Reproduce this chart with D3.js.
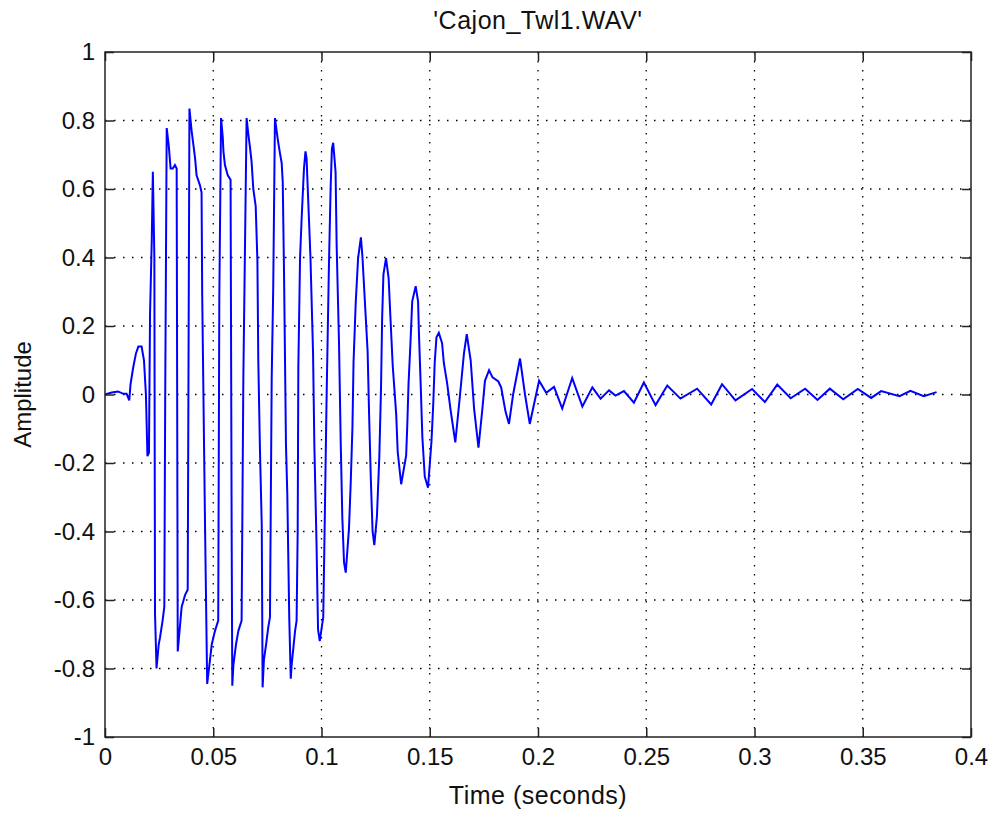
<!DOCTYPE html>
<html lang="en">
<head>
    <meta charset="UTF-8">
    <title>Cajon_Twl1.WAV waveform</title>
    <script src="https://d3js.org/d3.v7.min.js" charset="utf-8"></script>
    <style>
        body { margin: 0; background: #fff; }
        text { font-family: "Liberation Sans", Arial, Helvetica, sans-serif; fill: #111; }
    </style>
</head>
<body>
<script>

// data: time (s) and amplitude at peaks, troughs and shoulders
var timeSec = [
    0, 0.0031, 0.006, 0.0085, 0.010, 0.0112, 0.0118, 0.013, 0.0143, 0.0154,
    0.0169, 0.018, 0.0189, 0.0196, 0.0203, 0.0208, 0.0216, 0.0221, 0.0228, 0.0231,
    0.0238, 0.0248, 0.0254, 0.0266, 0.0274, 0.0278, 0.0285, 0.0294, 0.0303, 0.0313,
    0.0323, 0.0331, 0.0336, 0.0343, 0.0354, 0.0370, 0.0382, 0.0390, 0.0400, 0.0408,
    0.0416, 0.0423, 0.0439, 0.0446, 0.0449, 0.0462, 0.0472, 0.0485, 0.0493, 0.0508,
    0.0523, 0.0528, 0.0536, 0.0544, 0.0547, 0.0554, 0.0567, 0.0580, 0.0585, 0.0588,
    0.0593, 0.0605, 0.0616, 0.0631, 0.0639, 0.0654, 0.0662, 0.0670, 0.0677, 0.0685,
    0.0696, 0.0704, 0.0708, 0.0716, 0.0724, 0.0728, 0.0734, 0.0744, 0.0754, 0.0762,
    0.0770, 0.0777, 0.0785, 0.0798, 0.0808, 0.0816, 0.0821, 0.0827, 0.0836, 0.0842,
    0.0851, 0.0858, 0.0862, 0.0870, 0.0878, 0.0885, 0.0890, 0.0893, 0.0901, 0.0908,
    0.0919, 0.0926, 0.0931, 0.0949, 0.0961, 0.0967, 0.0977, 0.0984, 0.0992, 0.1008,
    0.1014, 0.1023, 0.1034, 0.1042, 0.1048, 0.1054, 0.1065, 0.1070, 0.1081, 0.1089,
    0.1096, 0.1104, 0.1112, 0.1127, 0.1135, 0.1143, 0.1148, 0.1158, 0.1169, 0.1182,
    0.1189, 0.1213, 0.1220, 0.1228, 0.1236, 0.1244, 0.1256, 0.1267, 0.1275, 0.1280,
    0.1286, 0.1298, 0.1310, 0.1318, 0.1329, 0.1345, 0.1352, 0.1368, 0.1391, 0.1396,
    0.1402, 0.1411, 0.1419, 0.1435, 0.1446, 0.1450, 0.1458, 0.1466, 0.1477, 0.1492,
    0.1508, 0.1516, 0.1523, 0.1531, 0.1542, 0.1557, 0.1565, 0.1580, 0.1596, 0.1618,
    0.1640, 0.1658, 0.1671, 0.1689, 0.1705, 0.1725, 0.1743, 0.1755, 0.1774, 0.1790,
    0.1817, 0.1830, 0.1850, 0.1866, 0.1885, 0.1917, 0.1940, 0.1962, 0.2005, 0.2038,
    0.2074, 0.2112, 0.2158, 0.2205, 0.2251, 0.2289, 0.2328, 0.2358, 0.2397, 0.2443,
    0.2489, 0.2543, 0.2597, 0.2658, 0.2735, 0.2800, 0.2850, 0.2912, 0.2989, 0.3048,
    0.3105, 0.3167, 0.3234, 0.3291, 0.3348, 0.3410, 0.3477, 0.3539, 0.3585, 0.3670,
    0.3720, 0.3782, 0.3841
];
var amplitude = [
    0, 0.006, 0.009, 0.002, 0.002, -0.017, 0.03, 0.078, 0.12, 0.14,
    0.14, 0.10, 0.0, -0.18, -0.17, 0.235, 0.45, 0.65, 0.40, -0.64,
    -0.80, -0.73, -0.71, -0.66, -0.62, -0.02, 0.778, 0.73, 0.66, 0.66,
    0.67, 0.66, -0.75, -0.70, -0.62, -0.585, -0.57, 0.835, 0.77, 0.73,
    0.69, 0.64, 0.61, 0.59, 0.29, -0.38, -0.845, -0.775, -0.73, -0.69,
    -0.66, 0.28, 0.807, 0.75, 0.71, 0.67, 0.64, 0.627, -0.40, -0.85,
    -0.79, -0.73, -0.69, -0.66, 0.046, 0.807, 0.76, 0.72, 0.68, 0.60,
    0.55, 0.39, 0.10, -0.17, -0.38, -0.855, -0.775, -0.73, -0.68, -0.65,
    0.05, 0.31, 0.807, 0.745, 0.705, 0.676, 0.62, 0.35, -0.15, -0.29,
    -0.65, -0.83, -0.79, -0.74, -0.69, -0.66, -0.40, 0.08, 0.40, 0.51,
    0.66, 0.71, 0.69, 0.40, 0.12, -0.15, -0.435, -0.686, -0.72, -0.65,
    -0.41, -0.03, 0.366, 0.60, 0.717, 0.735, 0.65, 0.435, 0.147, -0.147,
    -0.356, -0.49, -0.52, -0.39, -0.257, -0.094, 0.094, 0.267, 0.398, 0.459,
    0.403, 0.126, -0.063, -0.25, -0.40, -0.44, -0.356, -0.183, 0.021, 0.22,
    0.35, 0.398, 0.34, 0.23, 0.084, -0.058, -0.168, -0.262, -0.178, -0.094,
    0.031, 0.152, 0.272, 0.316, 0.272, 0.18, 0.031, -0.126, -0.24, -0.272,
    -0.136, -0.03, 0.094, 0.167, 0.18, 0.15, 0.092, 0.034, -0.044, -0.14,
    0.0, 0.12, 0.176, 0.10, -0.043, -0.155, -0.043, 0.04, 0.071, 0.05,
    0.038, 0.02, -0.05, -0.086, 0.0, 0.105, 0.0, -0.086, 0.04, 0.005,
    0.022, -0.041, 0.048, -0.035, 0.021, -0.012, 0.012, -0.003, 0.01, -0.024,
    0.035, -0.031, 0.026, -0.012, 0.017, -0.029, 0.030, -0.017, 0.016, -0.022,
    0.029, -0.011, 0.017, -0.016, 0.017, -0.014, 0.016, -0.010, 0.010, -0.005,
    0.011, -0.005, 0.007
];

var xTicks = [0, 0.05, 0.1, 0.15, 0.2, 0.25, 0.3, 0.35, 0.4];
var yTicks = [-1, -0.8, -0.6, -0.4, -0.2, 0, 0.2, 0.4, 0.6, 0.8, 1];

var titleText = "'Cajon_Twl1.WAV'";
var xLabel = "Time (seconds)";
var yLabel = "Amplitude";

// canvas and plot box
var width = 995,
    height = 813,
    margin = {top: 52, right: 24, bottom: 76, left: 105};

var x = d3.scaleLinear()
    .domain([0, 0.4])
    .range([margin.left, width - margin.right]);

var y = d3.scaleLinear()
    .domain([-1, 1])
    .range([height - margin.bottom, margin.top]);

var fmt = function(d) { return String(+d.toFixed(2)); };

var svg = d3.select("body").append("svg")
    .attr("width", width)
    .attr("height", height);

svg.append("rect")
    .attr("width", width)
    .attr("height", height)
    .attr("fill", "#fff");

// dotted grid
var grid = svg.append("g")
    .attr("stroke", "#000")
    .attr("stroke-width", 1.3)
    .attr("stroke-dasharray", "1.5,7.5");

grid.selectAll(".vgrid")
    .data(xTicks.slice(1, -1))
    .enter().append("line")
    .attr("x1", function(d) { return x(d); })
    .attr("x2", function(d) { return x(d); })
    .attr("y1", y(1))
    .attr("y2", y(-1));

grid.selectAll(".hgrid")
    .data(yTicks.slice(1, -1))
    .enter().append("line")
    .attr("y1", function(d) { return y(d); })
    .attr("y2", function(d) { return y(d); })
    .attr("x1", x(0))
    .attr("x2", x(0.4));

// the waveform
var line = d3.line()
    .x(function(d, i) { return x(timeSec[i]); })
    .y(function(d, i) { return y(amplitude[i]); });

svg.append("path")
    .datum(timeSec)
    .attr("d", line)
    .attr("fill", "none")
    .attr("stroke", "#0000ff")
    .attr("stroke-width", 2)
    .attr("stroke-linejoin", "miter");

// axes, ticks pointing inward on all four sides
var tickLen = 9;

function styleAxis(g) {
    g.select(".domain").remove();
    g.selectAll(".tick line").attr("stroke", "#222").attr("stroke-width", 1.5);
    g.selectAll(".tick text")
        .attr("fill", "#111")
        .style("font-size", "24px")
        .style("font-family", "'Liberation Sans', Arial, sans-serif");
}

svg.append("g")
    .attr("transform", "translate(0," + y(-1) + ")")
    .call(d3.axisBottom(x).tickValues(xTicks).tickFormat(fmt)
        .tickSizeInner(-tickLen).tickSizeOuter(0).tickPadding(11))
    .call(styleAxis);

svg.append("g")
    .attr("transform", "translate(0," + y(1) + ")")
    .call(d3.axisTop(x).tickValues(xTicks).tickFormat("")
        .tickSizeInner(-tickLen).tickSizeOuter(0))
    .call(styleAxis);

svg.append("g")
    .attr("transform", "translate(" + x(0) + ",0)")
    .call(d3.axisLeft(y).tickValues(yTicks).tickFormat(fmt)
        .tickSizeInner(-tickLen).tickSizeOuter(0).tickPadding(10))
    .call(styleAxis);

svg.append("g")
    .attr("transform", "translate(" + x(0.4) + ",0)")
    .call(d3.axisRight(y).tickValues(yTicks).tickFormat("")
        .tickSizeInner(-tickLen).tickSizeOuter(0))
    .call(styleAxis);

// box
svg.append("rect")
    .attr("x", x(0))
    .attr("y", y(1))
    .attr("width", x(0.4) - x(0))
    .attr("height", y(-1) - y(1))
    .attr("fill", "none")
    .attr("stroke", "#222")
    .attr("stroke-width", 1.5);

// labels
svg.append("text")
    .attr("x", (x(0) + x(0.4)) / 2)
    .attr("y", 29)
    .attr("text-anchor", "middle")
    .style("font-size", "25px")
    .style("letter-spacing", "0.5px")
    .text(titleText);

svg.append("text")
    .attr("x", (x(0) + x(0.4)) / 2)
    .attr("y", 804)
    .attr("text-anchor", "middle")
    .style("font-size", "25px")
    .style("letter-spacing", "0.5px")
    .text(xLabel);

svg.append("text")
    .attr("transform", "translate(31," + y(0) + ") rotate(-90)")
    .attr("text-anchor", "middle")
    .style("font-size", "24px")
    .text(yLabel);

</script>
</body>
</html>
